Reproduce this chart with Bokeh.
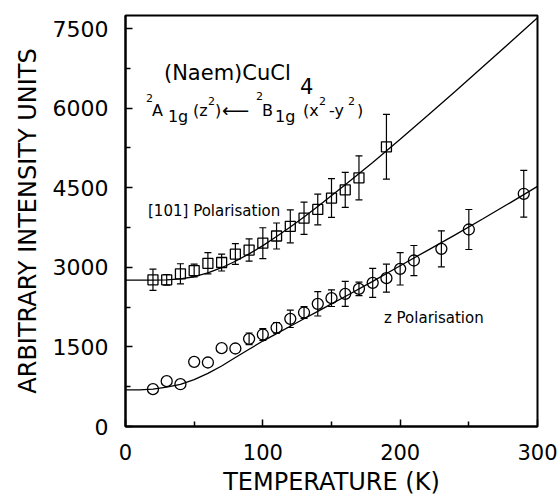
from bokeh.plotting import figure
from bokeh.models import Range1d, FixedTicker, ColumnDataSource, Whisker, TeeHead, Label
from bokeh.embed import file_html
from bokeh.resources import INLINE

# ---------------- data ----------------
# [101] polarisation (squares)
sq_T = [20, 30, 40, 50, 60, 70, 80, 90, 100, 110, 120, 130, 140, 150, 160, 170, 190]
sq_I = [2764, 2764, 2877, 2939, 3075, 3090, 3250, 3325, 3455, 3590, 3772, 3925, 4090, 4305, 4460, 4686, 5270]
sq_err = [200, 100, 190, 120, 200, 160, 195, 210, 290, 245, 310, 305, 290, 365, 330, 415, 610]

# z polarisation (circles)
ci_T = [20, 30, 40, 50, 60, 70, 80, 90, 100, 110, 120, 130, 140, 150, 160, 170, 180, 190, 200, 210, 230, 250, 290]
ci_I = [703, 854, 797, 1219, 1206, 1476, 1470, 1652, 1734, 1860, 2029, 2148, 2311, 2418, 2500, 2594, 2707, 2795,
        2971, 3128, 3348, 3712, 4385]
ci_err = [0, 0, 0, 0, 0, 0, 0, 110, 110, 100, 163, 110, 229, 157, 235, 126, 273, 264, 305, 283, 339, 377, 440]

# fitted curves
fit_sq_T = [0, 20, 30, 40, 50, 60, 70, 80, 90, 100, 110, 120, 130, 140, 160, 180, 200, 220, 240, 260, 280, 300]
fit_sq_I = [2760, 2760, 2763, 2780, 2822, 2893, 2992, 3114, 3254, 3409, 3580, 3760, 3947, 4144, 4554, 4977,
            5413, 5860, 6313, 6773, 7235, 7701]
fit_ci_T = [0, 10, 20, 30, 40, 50, 60, 70, 80, 90, 100, 110, 120, 130, 140, 150, 160, 180, 200, 220, 240, 260, 280, 300]
fit_ci_I = [690, 692, 705, 740, 795, 885, 1000, 1140, 1300, 1455, 1610, 1750, 1890, 2030, 2170, 2310, 2450,
            2735, 3030, 3320, 3610, 3910, 4215, 4525]

x_ticks = [0, 100, 200, 300]
x_minor = [50, 150, 250]
y_ticks = [0, 1500, 3000, 4500, 6000, 7500]
y_minor = [750, 2250, 3750, 5250, 6750]

FONT = "DejaVu Sans"

# ---------------- figure ----------------
p = figure(frame_width=412, frame_height=411,
           x_range=Range1d(0, 300), y_range=Range1d(0, 7745),
           output_backend="svg", toolbar_location=None,
           min_border_left=125, min_border_right=21, min_border_top=15, min_border_bottom=71)
p.xgrid.visible = False
p.ygrid.visible = False
p.outline_line_color = "black"
p.outline_line_width = 2
p.outline_line_alpha = 1
p.background_fill_color = "white"
p.border_fill_color = "white"

p.xaxis.ticker = FixedTicker(ticks=x_ticks, minor_ticks=x_minor)
p.yaxis.ticker = FixedTicker(ticks=y_ticks, minor_ticks=y_minor)
for ax in (p.xaxis[0], p.yaxis[0]):
    ax.major_tick_in = 7
    ax.major_tick_out = 0
    ax.minor_tick_in = 5
    ax.minor_tick_out = 0
    ax.axis_line_width = 2
    ax.axis_line_color = "black"
    ax.major_tick_line_width = 1.5
    ax.minor_tick_line_width = 1.5
    ax.major_tick_line_color = "black"
    ax.minor_tick_line_color = "black"
    ax.major_label_text_font = FONT
    ax.major_label_text_color = "black"
    ax.axis_label_text_font = FONT
    ax.axis_label_text_font_style = "normal"
    ax.axis_label_text_color = "black"
    ax.axis_label_text_font_size = "24px"

p.yaxis.major_label_text_font_size = "22px"
p.xaxis.major_label_text_font_size = "21px"
p.yaxis.major_label_standoff = 17
p.xaxis.major_label_standoff = 17
p.yaxis.axis_label_standoff = 8
p.xaxis.axis_label_standoff = 5
p.yaxis.axis_label = "ARBITRARY INTENSITY UNITS"
p.xaxis.axis_label = "TEMPERATURE (K)"

# ---------------- curves ----------------
p.line(fit_sq_T, fit_sq_I, line_color="black", line_width=1.3)
p.line(fit_ci_T, fit_ci_I, line_color="black", line_width=1.3)

# ---------------- error bars ----------------
sq_src = ColumnDataSource(dict(T=sq_T, I=sq_I,
                               lo=[v - e for v, e in zip(sq_I, sq_err)],
                               hi=[v + e for v, e in zip(sq_I, sq_err)]))
ci_keep = [i for i, e in enumerate(ci_err) if e > 0]
ci_err_src = ColumnDataSource(dict(T=[ci_T[i] for i in ci_keep],
                                   lo=[ci_I[i] - ci_err[i] for i in ci_keep],
                                   hi=[ci_I[i] + ci_err[i] for i in ci_keep]))
ci_src = ColumnDataSource(dict(T=ci_T, I=ci_I))

for src in (sq_src, ci_err_src):
    w = Whisker(source=src, base="T", lower="lo", upper="hi", dimension="height",
                line_color="black", line_width=1.2,
                upper_head=TeeHead(size=7, line_color="black", line_width=1.2),
                lower_head=TeeHead(size=7, line_color="black", line_width=1.2))
    p.add_layout(w)

# ---------------- markers ----------------
p.scatter("T", "I", source=sq_src, marker="square", size=10,
          fill_color=None, line_color="black", line_width=1.3)
p.scatter("T", "I", source=ci_src, marker="circle", size=11,
          fill_color=None, line_color="black", line_width=1.3)

# ---------------- annotations ----------------
def lab(x, y, t, size):
    p.add_layout(Label(x=x, y=y, text=t, text_font=FONT, text_font_size=size,
                       text_color="black", text_align="left", text_baseline="alphabetic"))

lab(28.0, 6670, "(Naem)CuCl", "21px")
lab(127.1, 6425, "4", "21px")

lab(14.9, 6199, "2", "11px")
lab(19.3, 5954, "A", "16px")
lab(30.9, 5841, "1g", "16px")
lab(49.2, 5954, "(z", "16px")
lab(60.1, 6143, "2", "11px")
lab(65.2, 5954, ")", "16px")
lab(70.3, 5973, "\u27f5", "19px")
lab(95.0, 6237, "2", "11px")
lab(99.4, 5954, "B", "16px")
lab(108.9, 5841, "1g", "16px")
lab(129.2, 5954, "(x", "16px")
lab(140.9, 6143, "2", "11px")
lab(148.2, 5954, "-y", "16px")
lab(162.0, 6143, "2", "11px")
lab(168.6, 5954, ")", "16px")

lab(16.4, 4070, "[101] Polarisation", "15px")
lab(188.2, 2054, "z Polarisation", "15px")

open("out.html", "w").write(file_html(p, INLINE))
